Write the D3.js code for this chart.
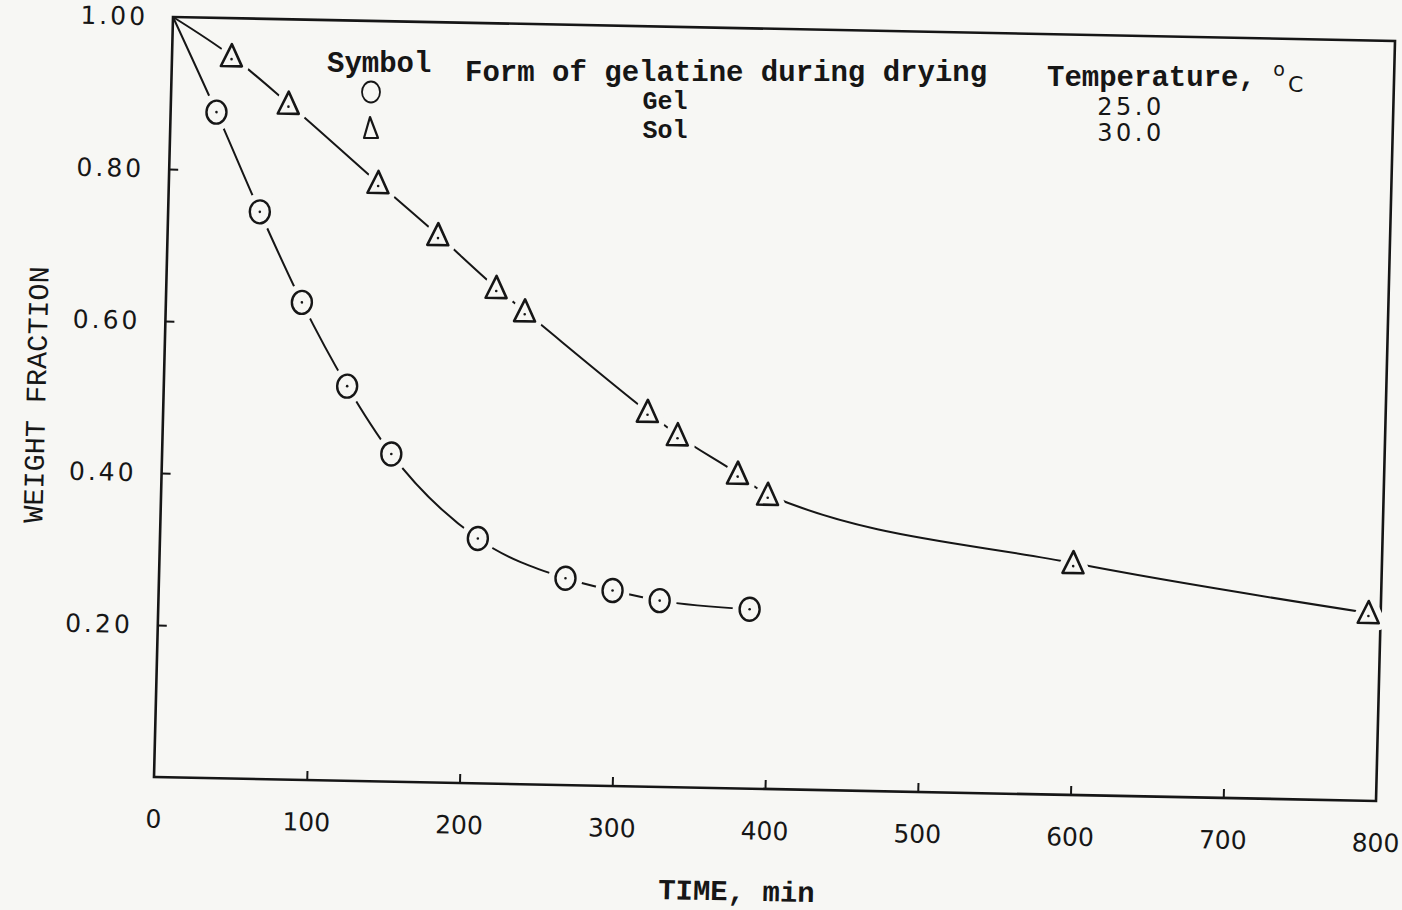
<!DOCTYPE html>
<html lang="en">
<head>
<meta charset="UTF-8">
<title>Weight fraction vs drying time</title>
<script src="https://cdn.jsdelivr.net/npm/d3@7/dist/d3.min.js"></script>
<style>
  body { margin: 0; background: #f7f7f4; }
  svg { display: block; }
</style>
</head>
<body>
<div id="chart"></div>
<script>
// Gel, 25.0 C (circles)
const gelTime = [30, 60, 89, 120, 150, 208, 266, 297, 328, 387];
const gelFraction = [0.876, 0.746, 0.628, 0.519, 0.431, 0.322, 0.272, 0.257, 0.245, 0.236];
// Sol, 30.0 C (triangles)
const solTime = [39, 77, 137, 177, 216, 235, 317, 337, 377, 397, 598, 792];
const solFraction = [0.950, 0.889, 0.787, 0.720, 0.652, 0.622, 0.493, 0.463, 0.414, 0.387, 0.305, 0.247];
// both curves start from the top left corner
const startPoint = [0, 1.0];

const xTicks = [0, 100, 200, 300, 400, 500, 600, 700, 800];
const yTicks = [0.2, 0.4, 0.6, 0.8, 1.0];

const largeur = 1402, hauteur = 910;
const W = 1222, H = 760;
const ink = "#161616", paper = "#f7f7f4";
const mono = "'Liberation Mono', 'DejaVu Sans Mono', monospace";
const sans = "'DejaVu Sans', sans-serif";

const svg = d3.select("#chart").append("svg")
    .attr("width", largeur)
    .attr("height", hauteur);

svg.append("rect").attr("width", largeur).attr("height", hauteur).attr("fill", paper);

// the scanned page is a little skewed, so the plot sits in a skewed group
const g = svg.append("g")
    .attr("transform", "matrix(1,0.0196,-0.025,1,173,17)");

const x = d3.scaleLinear().domain([0, 800]).range([0, W]);
const y = d3.scaleLinear().domain([0, 1]).range([H, 0]);

// frame
g.append("rect")
    .attr("width", W).attr("height", H)
    .attr("fill", "none").attr("stroke", ink).attr("stroke-width", 2.6);

// axes
const yAxis = g.append("g")
    .call(d3.axisLeft(y).tickValues(yTicks).tickSize(-9).tickPadding(25).tickFormat(d3.format(".2f")));
const xAxis = g.append("g")
    .attr("transform", `translate(0,${H})`)
    .call(d3.axisBottom(x).tickValues(xTicks).tickSize(-9).tickPadding(33));

[yAxis, xAxis].forEach(ax => {
    ax.select(".domain").remove();
    ax.selectAll(".tick line").attr("stroke", ink).attr("stroke-width", 2);
    ax.selectAll("text")
        .attr("fill", ink)
        .style("font-family", sans)
        .style("font-size", "25px");
});
yAxis.selectAll("text").style("letter-spacing", "3px");
yAxis.selectAll(".tick").filter(d => d === 1.0).select("line").remove();
xAxis.selectAll(".tick").filter(d => d === 0 || d === 800).select("line").remove();

// axis titles
g.append("text")
    .attr("x", 585).attr("y", 862).attr("dy", "0.35em")
    .attr("text-anchor", "middle")
    .style("font-family", mono).style("font-size", "29px").style("font-weight", "bold")
    .attr("fill", ink)
    .text("TIME, min");

g.append("text")
    .attr("transform", "translate(-128,380) rotate(-90)")
    .attr("dy", "0.35em")
    .attr("text-anchor", "middle")
    .style("font-family", mono).style("font-size", "28.5px")
    .attr("fill", ink)
    .text("WEIGHT FRACTION");

// curves
const line = d3.line()
    .x(d => x(d[0]))
    .y(d => y(d[1]))
    .curve(d3.curveMonotoneX);

const gelData = gelTime.map((t, i) => [t, gelFraction[i]]);
const solData = solTime.map((t, i) => [t, solFraction[i]]);

[gelData, solData].forEach(data => {
    g.append("path")
        .datum([startPoint, ...data])
        .attr("fill", "none")
        .attr("stroke", ink)
        .attr("stroke-width", 2)
        .attr("d", line);
});

// markers, with a paper coloured halo so the curve stops short of them
const triPath = "M0,-12L10.5,10L-10.5,10Z";

const gelMarks = g.append("g").selectAll("g")
    .data(gelData)
    .join("g")
    .attr("transform", d => `translate(${x(d[0])},${y(d[1])})`);
gelMarks.append("ellipse")
    .attr("rx", 10).attr("ry", 11.5)
    .attr("fill", paper).attr("stroke", paper).attr("stroke-width", 14);
gelMarks.append("ellipse")
    .attr("rx", 10).attr("ry", 11.5)
    .attr("fill", "none").attr("stroke", ink).attr("stroke-width", 2.4);
gelMarks.append("circle").attr("r", 1.3).attr("fill", ink);

const solMarks = g.append("g").selectAll("g")
    .data(solData)
    .join("g")
    .attr("transform", d => `translate(${x(d[0])},${y(d[1])})`);
solMarks.append("path")
    .attr("d", triPath)
    .attr("fill", paper).attr("stroke", paper).attr("stroke-width", 14)
    .attr("stroke-linejoin", "round");
solMarks.append("path")
    .attr("d", triPath)
    .attr("fill", "none").attr("stroke", ink).attr("stroke-width", 2.6)
    .attr("stroke-linejoin", "round");
solMarks.append("circle").attr("cy", 3).attr("r", 1.3).attr("fill", ink);

// legend (typed on the page, not skewed with the frame)
const legend = svg.append("g").attr("fill", ink);
const monoBold = (sel, size) => sel.style("font-family", mono).style("font-size", size + "px").style("font-weight", "bold");

legend.append("text").attr("x", 327).attr("y", 62).attr("dy", "0.35em").call(monoBold, 29).text("Symbol");
legend.append("text").attr("x", 465).attr("y", 71).attr("dy", "0.35em").call(monoBold, 29).text("Form of gelatine during drying");
const temp = legend.append("text").attr("x", 1047).attr("y", 76).attr("dy", "0.35em").call(monoBold, 29);
temp.append("tspan").text("Temperature, ");
temp.append("tspan")
    .attr("dy", "-0.55em")
    .style("font-family", sans).style("font-size", "19px").style("font-weight", "normal")
    .text("o");
temp.append("tspan")
    .attr("dx", 3).attr("dy", "0.75em")
    .style("font-family", sans).style("font-size", "22px").style("font-weight", "normal")
    .text("C");

legend.append("text").attr("x", 665).attr("y", 100).attr("dy", "0.35em")
    .attr("text-anchor", "middle").call(monoBold, 25).text("Gel");
legend.append("text").attr("x", 665).attr("y", 129).attr("dy", "0.35em")
    .attr("text-anchor", "middle").call(monoBold, 25).text("Sol");

legend.append("text").attr("x", 1131).attr("y", 107).attr("dy", "0.35em")
    .attr("text-anchor", "middle")
    .style("font-family", sans).style("font-size", "24px").style("letter-spacing", "3.5px")
    .text("25.0");
legend.append("text").attr("x", 1131).attr("y", 133).attr("dy", "0.35em")
    .attr("text-anchor", "middle")
    .style("font-family", sans).style("font-size", "24px").style("letter-spacing", "3.5px")
    .text("30.0");

legend.append("ellipse")
    .attr("cx", 371).attr("cy", 92).attr("rx", 9).attr("ry", 10.5)
    .attr("fill", "none").attr("stroke", ink).attr("stroke-width", 1.8);
legend.append("path")
    .attr("transform", "translate(371,128)")
    .attr("d", "M-1,-11L7,10L-7,10Z")
    .attr("fill", "none").attr("stroke", ink).attr("stroke-width", 2.2)
    .attr("stroke-linejoin", "round");
</script>
</body>
</html>
